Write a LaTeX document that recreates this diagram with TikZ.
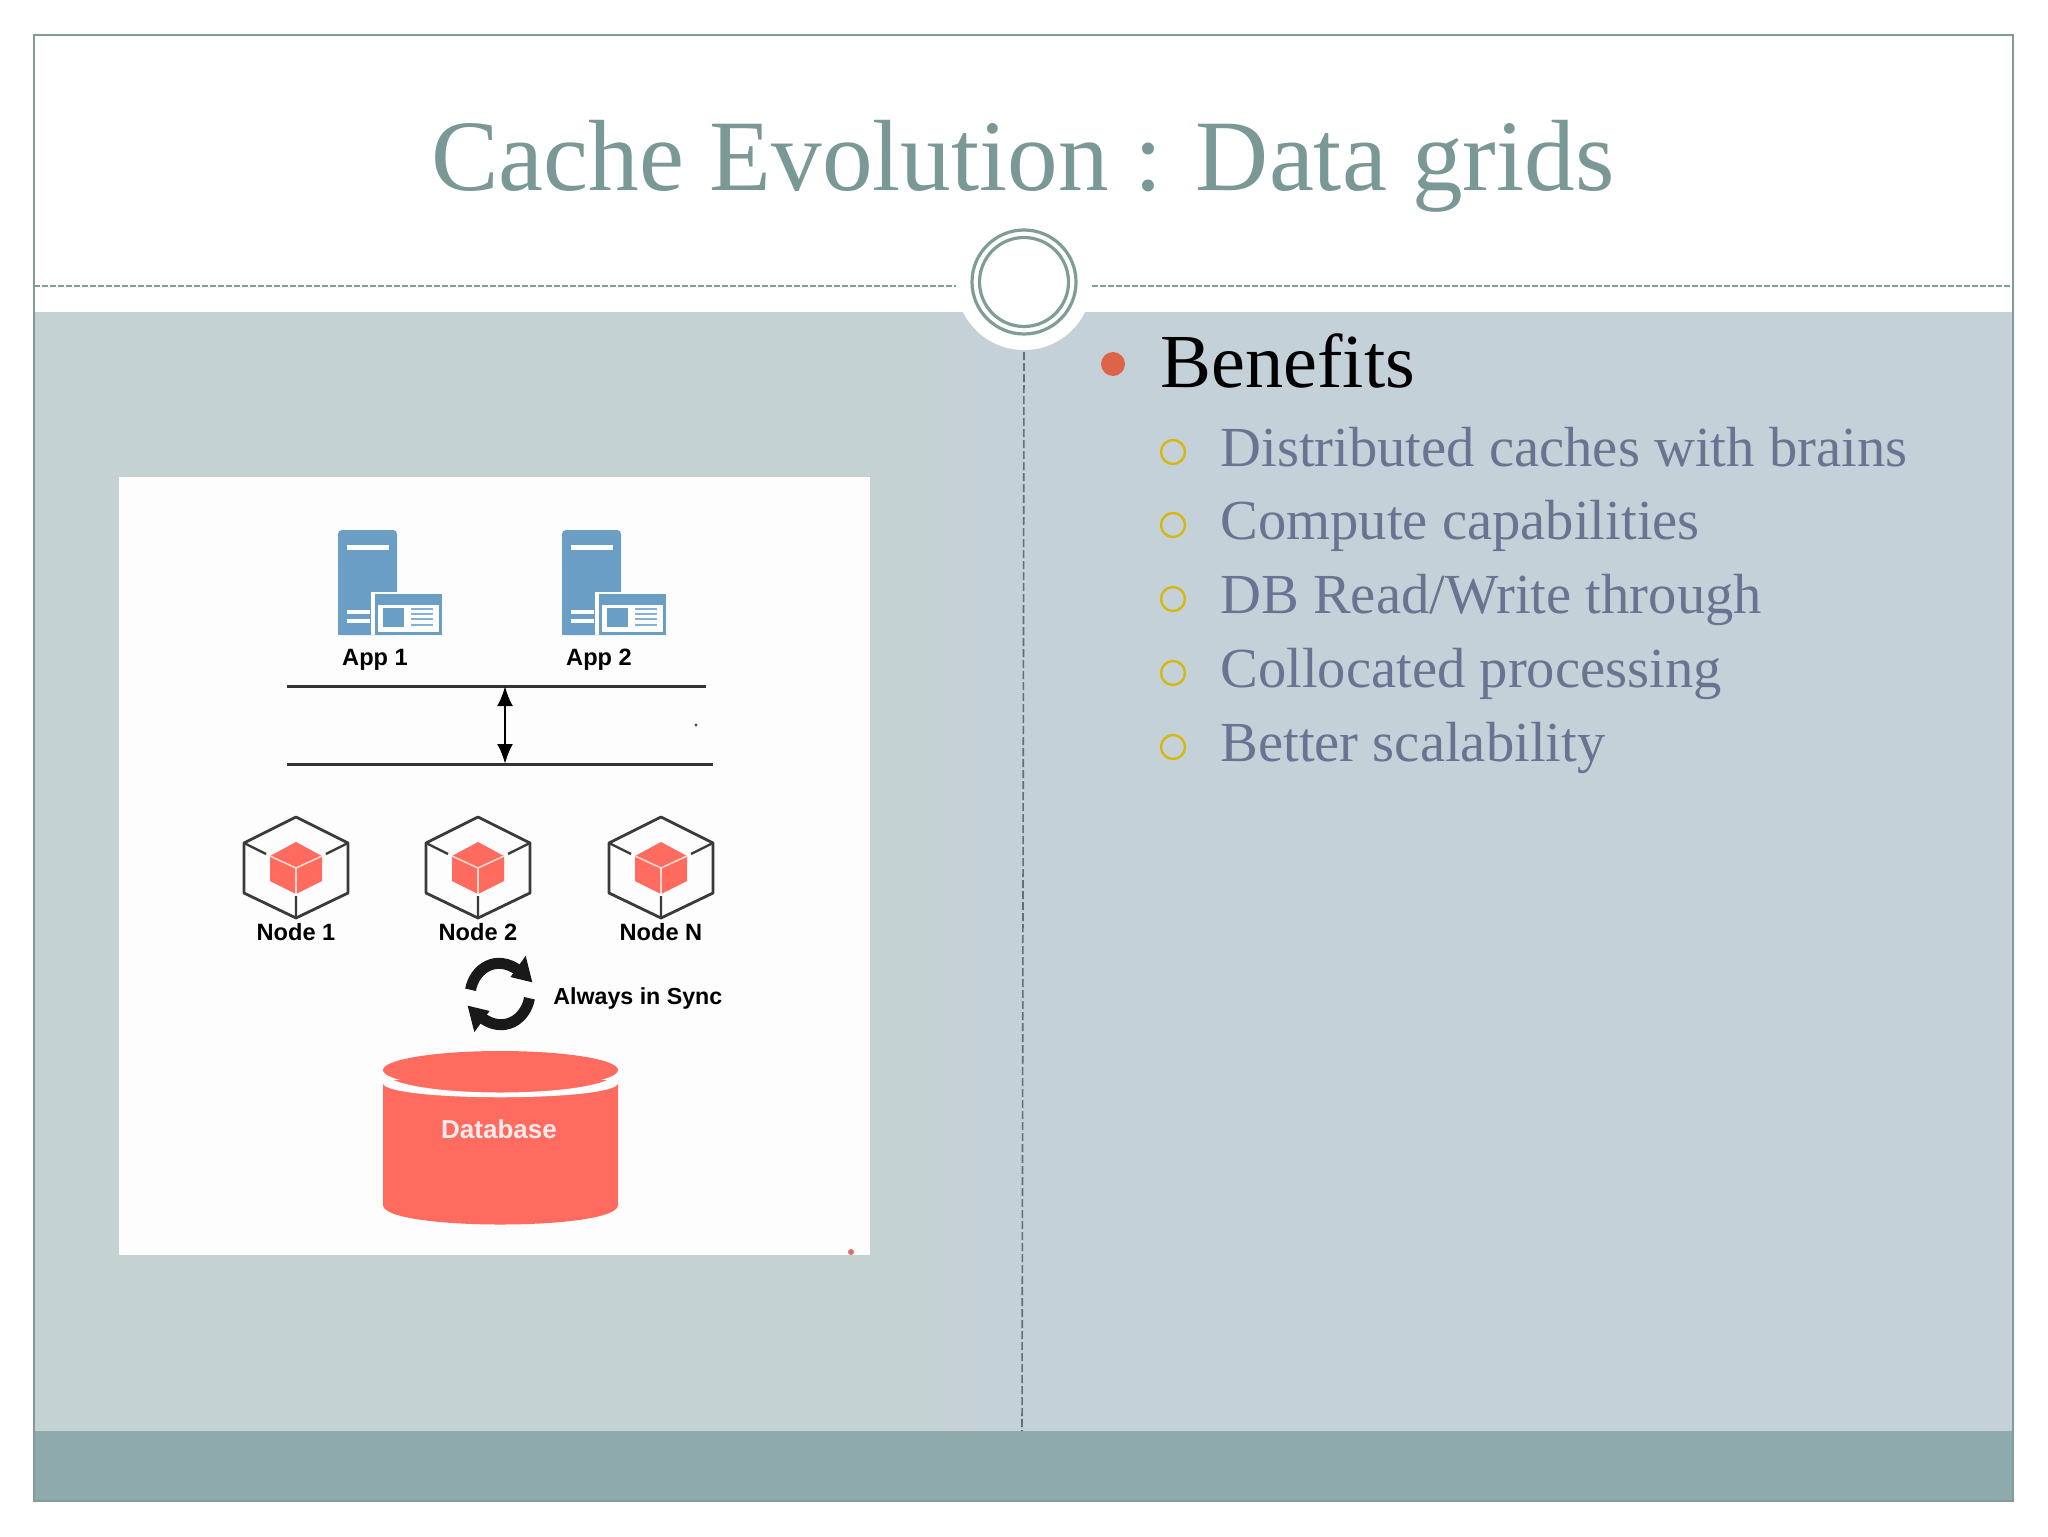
\documentclass[tikz,border=0pt]{standalone}
\usepackage{fontspec}
\setmainfont{Liberation Serif}
\newfontfamily\lblfont{Liberation Sans}[BoldFont={Liberation Sans Bold}]
\usetikzlibrary{arrows.meta}
\definecolor{framec}{HTML}{7F9C97}
\definecolor{titlec}{HTML}{7A9895}
\definecolor{panell}{HTML}{C5D2D2}
\definecolor{panelr}{HTML}{C5D1D9}
\definecolor{bandc}{HTML}{8EAAAD}
\definecolor{subc}{HTML}{6A7391}
\definecolor{bulr}{HTML}{DD6448}
\definecolor{buly}{HTML}{D4B80E}
\definecolor{srv}{HTML}{6A9EC5}
\definecolor{redc}{HTML}{FF6B5E}
\definecolor{vdash}{HTML}{5F7079}
\definecolor{hexc}{HTML}{3A3A3A}
\definecolor{ylin}{HTML}{FFD9CC}
\definecolor{imgbg}{HTML}{FDFDFE}
\tikzset{
  lbl/.style={font=\lblfont\bfseries\fontsize{11.8}{14}\selectfont,text=black,inner sep=0pt},
  subitem/.style={font=\fontsize{28.3}{32}\selectfont,text=subc,anchor=base west,inner sep=0pt},
  subbullet/.style={draw=buly,line width=1.2pt,fill=none},
  hline/.style={line width=1.5pt,draw=black!80},
  syncstroke/.style={line width=5.5pt,draw=black!90},
  dashh/.style={draw=framec,line width=0.6pt,dash pattern=on 3pt off 1pt},
  dashv/.style={draw=vdash,line width=0.8pt,dash pattern=on 4pt off 1.5pt},
}
\newcommand{\serverapp}[3]{%
 \begin{scope}[shift={(#1,#2)}]
  \fill[srv,rounded corners=2pt] (0,0) rectangle (59,105);
  \fill[srv] (0,90) rectangle (59,105);
  \fill[white] (9,15) rectangle (51,20);
  \fill[white] (9,80) rectangle (32,84);
  \fill[white] (9,89) rectangle (32,93);
  \fill[white] (33,62) rectangle (104,105);
  \fill[srv] (37,64) rectangle (104,105);
  \fill[white] (40,75) rectangle (101,102);
  \fill[srv] (45,78) rectangle (66,97);
  \foreach \yy in {78,83,88,94}{\fill[srv!80] (73,\yy) rectangle (95,\yy+2);}
 \end{scope}}
\newcommand{\hexcube}[2]{%
 \begin{scope}[shift={(#1,#2)}]
  \draw[hexc,line width=1.4pt,line join=round] (0,-51)--(52,-25)--(52,25)--(0,50)--(-52,25)--(-52,-25)--cycle;
  \draw[hexc,line width=1.2pt] (52,-25)--(30,-14) (-52,-25)--(-30,-14) (0,50)--(0,28);
  \fill[redc] (0,-26)--(26,-12)--(26,13)--(0,26)--(-26,13)--(-26,-12)--cycle;
  \draw[ylin,line width=0.8pt] (0,0)--(0,26) (0,0)--(-26,-12) (0,0)--(26,-12);
 \end{scope}}
\begin{document}
\begin{tikzpicture}[x=0.5pt,y=-0.5pt]
\useasboundingbox (0,0) rectangle (2048,1536);
\fill[white] (0,0) rectangle (2048,1536);
% panels
\fill[panell] (34,312) rectangle (880,1431);
\fill[panelr] (1000,312) rectangle (2013,1431);
\shade[left color=panell,right color=panelr] (879,312) rectangle (1001,1431);
\fill[bandc] (34,1431) rectangle (2013,1501);
\draw[framec,line width=0.8pt] (34,35) rectangle (2013,1501);
% divider
\fill[white] (1024,282) circle[radius=68];
\coordinate (hl1) at (34,286);
\coordinate (hl2) at (956,286);
\coordinate (hr1) at (1092,286);
\coordinate (hr2) at (2013,286);
\draw[dashh] (hl1)--(hl2);
\draw[dashh] (hr1)--(hr2);
\node[circle,draw=framec,line width=1.6pt,minimum size=52pt,inner sep=0pt] (outerring) at (1024,282) {};
\node[circle,draw=framec,line width=1.6pt,minimum size=44.5pt,inner sep=0pt] (innerring) at (1024,282) {};
\coordinate (vt) at (1024,352);
\coordinate (vb) at (1022,1431);
\draw[dashv] (vt)--(vb);
% title
\node[font=\fontsize{50.6}{56}\selectfont,text=titlec,inner sep=0pt] (title) at (1023,166) {Cache Evolution : Data grids};
% bullets
\fill[bulr] (1113,364) circle[radius=12];
\node[font=\fontsize{38.2}{42}\selectfont,text=black,anchor=base west,inner sep=0pt] (benefits) at (1160,387) {Benefits};
\foreach \yy/\nm/\tx in {448/a/{Distributed caches with brains},521/b/{Compute capabilities},595/c/{DB Read/Write through},669/d/{Collocated processing},743/e/{Better scalability}}{
  \draw[subbullet] (1173,\yy+4) circle[radius=12];
  \node[subitem] (item\nm) at (1220,\yy+18) {\tx};
}
% image
\fill[imgbg] (119,477) rectangle (870,1255);
\serverapp{338}{530}{}
\serverapp{562}{530}{}
\node[lbl] (app1) at (375,660) {App 1};
\node[lbl] (app2) at (599,660) {App 2};
\coordinate (l1a) at (287,686); \coordinate (l1b) at (706,686);
\coordinate (l2a) at (287,764); \coordinate (l2b) at (713,764);
\coordinate (arrt) at (505,686); \coordinate (arrb) at (505,764);
\draw[hline] (l1a)--(l1b);
\draw[hline] (l2a)--(l2b);
\draw[line width=1.4pt,{Latex[length=10pt,width=8pt]}-{Latex[length=10pt,width=8pt]}] (arrt)--(arrb);
\fill[black!70] (696,725) circle[radius=1.6];
\hexcube{296}{868}
\hexcube{478}{868}
\hexcube{661}{868}
\node[lbl] (n1) at (296,932) {Node 1};
\node[lbl] (n2) at (478,932) {Node 2};
\node[lbl] (nn) at (661,932) {Node N};
% sync
\begin{scope}[shift={(500,994)},xscale=0.95,yscale=1.06]
  \foreach \ang in {0,180}{
   \begin{scope}[rotate=\ang]
    \draw[syncstroke] (-31,-4) .. controls (-27,-24) and (-4,-38) .. (20,-22);
    \fill[black!90] (27,-36)--(34,-11)--(11,-16)--cycle;
   \end{scope}}
\end{scope}
\node[lbl,anchor=west,font=\lblfont\bfseries\fontsize{11.6}{14}\selectfont] (sync) at (553,998) {Always in Sync};
% database
\fill[redc] (383,1080) -- (383,1205) .. controls (383,1231) and (618,1231) .. (618,1205) -- (618,1080) -- cycle;
\fill[white] (383,1070) .. controls (383,1100) and (618,1100) .. (618,1070) -- (618,1083) .. controls (618,1102) and (383,1102) .. (383,1083) -- cycle;
\fill[redc] (500.5,1070) ellipse[x radius=117.5,y radius=19];
\node[lbl,text=white!92!red,font=\lblfont\bfseries\fontsize{13}{15}\selectfont] (db) at (499,1129) {Database};
\fill[redc!70!gray] (851,1252) circle[radius=3];
\end{tikzpicture}
\end{document}
